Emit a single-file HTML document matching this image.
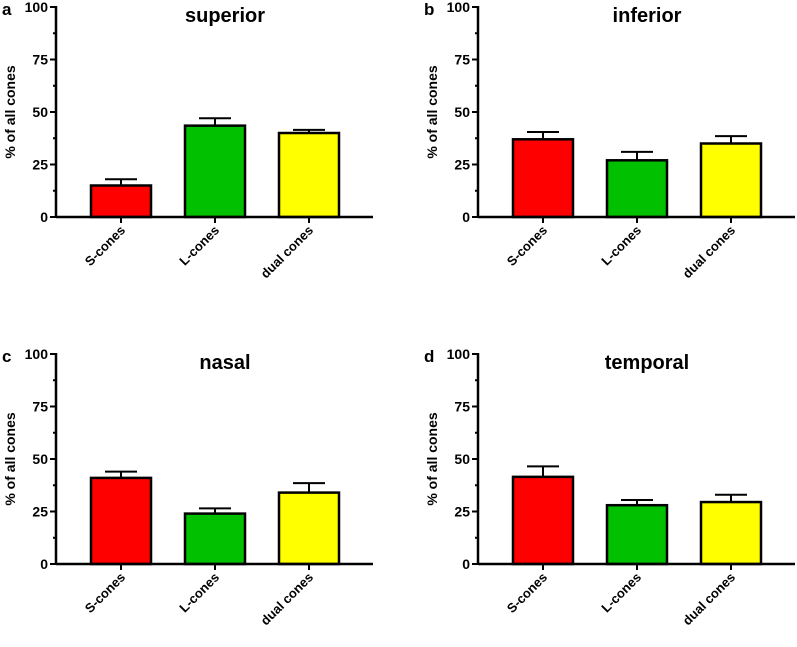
<!DOCTYPE html><html><head><meta charset="utf-8"><style>
body{margin:0;background:#fff;width:797px;height:642px;overflow:hidden}
text{font-family:"Liberation Sans",Arial,sans-serif;font-weight:bold;fill:#000}
</style></head><body>
<svg id="s" width="797" height="642"></svg>
<script>
const categories=["S-cones","L-cones","dual cones"];
const titles=["superior","inferior","nasal","temporal"];
const letters=["a","b","c","d"];
const meansA=[15,43.5,40], errA=[3,3.5,1.5];
const meansB=[37,27,35], errB=[3.5,4,3.5];
const meansC=[41,24,34], errC=[3,2.5,4.5];
const meansD=[41.5,28,29.5], errD=[5,2.5,3.5];
const means=[meansA,meansB,meansC,meansD], errs=[errA,errB,errC,errD];
const yTicks=[0,25,50,75,100];
const colors=["#ff0000","#00c000","#ffff00"];
const svg=document.getElementById('s');const NS="http://www.w3.org/2000/svg";
function mk(t,a,p){const e=document.createElementNS(NS,t);for(const k in a)e.setAttribute(k,a[k]);(p||svg).appendChild(e);return e;}
const offs=[[0,0],[422,0],[0,347],[422,347]];
for(let p=0;p<4;p++){
 const [ox,oy]=offs[p];
 const g=mk('g',{transform:`translate(${ox},${oy})`});
 
 
 const ax=56,y0=217,y1=7,xEnd=373;
 const Y=v=>y0-(v/100)*(y0-y1);
 const X=i=>121+i*94;
 const t=mk('text',{x:2,y:15,'font-size':17},g);t.textContent=letters[p];
 
 const tt=mk('text',{x:225,y:22,'font-size':20,'text-anchor':'middle'},g);tt.textContent=titles[p];
 
 const yl=mk('text',{transform:`translate(15,112) rotate(-90)`,'font-size':14,'text-anchor':'middle'},g);yl.textContent="% of all cones";
 
 yTicks.forEach(v=>{
  const l=mk('line',{x1:ax-6,x2:ax,y1:Y(v),y2:Y(v),stroke:'#000','stroke-width':2},g);
  
  const tx=mk('text',{x:ax-8,y:Y(v)+5,'font-size':14,'text-anchor':'end'},g);tx.textContent=v;
  
  if(v<100){const m=mk('line',{x1:ax-3,x2:ax,y1:Y(v+12.5),y2:Y(v+12.5),stroke:'#000','stroke-width':2},g);
  }
 });
 means[p].forEach((v,i)=>{
  const e=errs[p][i],cx=X(i);
  const el=mk('line',{x1:cx,x2:cx,y1:Y(v),y2:Y(v+e),stroke:'#000','stroke-width':2},g);
  
  const ec=mk('line',{x1:cx-16,x2:cx+16,y1:Y(v+e),y2:Y(v+e),stroke:'#000','stroke-width':2},g);
  
  const r=mk('rect',{x:cx-30,y:Y(v),width:60,height:y0-Y(v),fill:colors[i],stroke:'#000','stroke-width':2.5},g);
  
  const tk=mk('line',{x1:cx,x2:cx,y1:y0,y2:y0+6,stroke:'#000','stroke-width':2},g);
  
  const lb=mk('text',{transform:`translate(${cx+5},${y0+14}) rotate(-45)`,'font-size':13,'text-anchor':'end'},g);lb.textContent=categories[i];
  
 });
 const ya=mk('line',{x1:ax,x2:ax,y1:y1-1,y2:y0+1,stroke:'#000','stroke-width':2.5},g);
 
 const xa=mk('line',{x1:ax,x2:xEnd,y1:y0,y2:y0,stroke:'#000','stroke-width':2.5},g);
 
}
</script></body></html>
